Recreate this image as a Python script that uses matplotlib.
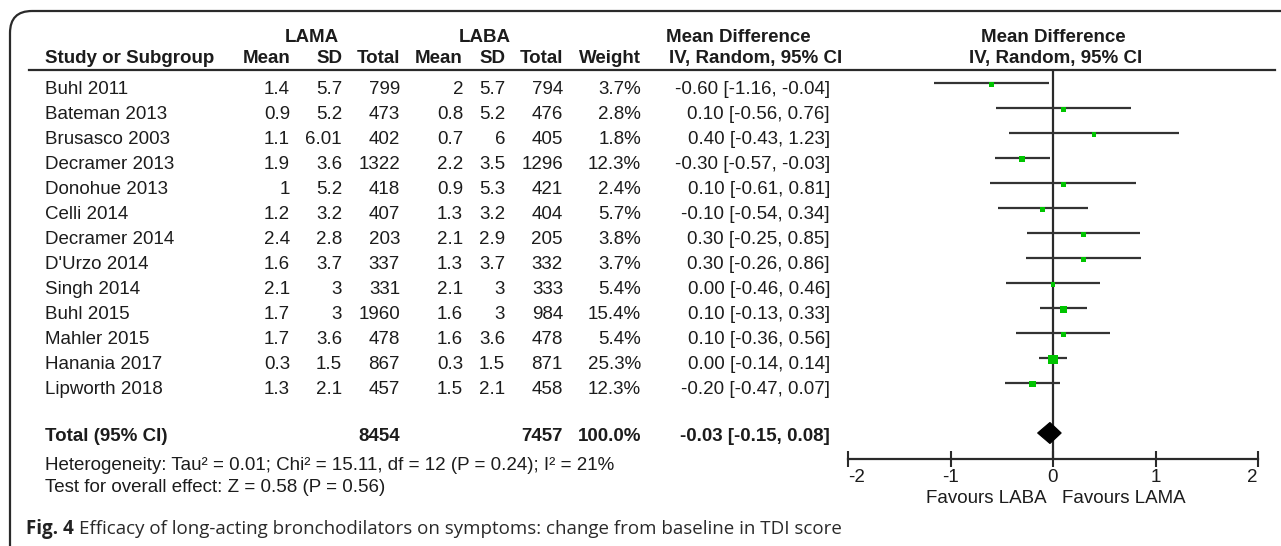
import matplotlib
matplotlib.use("Agg")
import matplotlib.pyplot as plt
from matplotlib.patches import FancyBboxPatch, Polygon
import numpy as np

# ---- data -------------------------------------------------------------
studies = ["Buhl 2011", "Bateman 2013", "Brusasco 2003", "Decramer 2013",
           "Donohue 2013", "Celli 2014", "Decramer 2014", "D'Urzo 2014",
           "Singh 2014", "Buhl 2015", "Mahler 2015", "Hanania 2017",
           "Lipworth 2018"]
lama_mean = ["1.4", "0.9", "1.1", "1.9", "1", "1.2", "2.4", "1.6", "2.1", "1.7", "1.7", "0.3", "1.3"]
lama_sd = ["5.7", "5.2", "6.01", "3.6", "5.2", "3.2", "2.8", "3.7", "3", "3", "3.6", "1.5", "2.1"]
lama_n = [799, 473, 402, 1322, 418, 407, 203, 337, 331, 1960, 478, 867, 457]
laba_mean = ["2", "0.8", "0.7", "2.2", "0.9", "1.3", "2.1", "1.3", "2.1", "1.6", "1.6", "0.3", "1.5"]
laba_sd = ["5.7", "5.2", "6", "3.5", "5.3", "3.2", "2.9", "3.7", "3", "3", "3.6", "1.5", "2.1"]
laba_n = [794, 476, 405, 1296, 421, 404, 205, 332, 333, 984, 478, 871, 458]
weight = [3.7, 2.8, 1.8, 12.3, 2.4, 5.7, 3.8, 3.7, 5.4, 15.4, 5.4, 25.3, 12.3]
md = [-0.60, 0.10, 0.40, -0.30, 0.10, -0.10, 0.30, 0.30, 0.00, 0.10, 0.10, 0.00, -0.20]
ci_lo = [-1.16, -0.56, -0.43, -0.57, -0.61, -0.54, -0.25, -0.26, -0.46, -0.13, -0.36, -0.14, -0.47]
ci_hi = [-0.04, 0.76, 1.23, -0.03, 0.81, 0.34, 0.85, 0.86, 0.46, 0.33, 0.56, 0.14, 0.07]

total_lama, total_laba = 8454, 7457
total_md, total_lo, total_hi = -0.03, -0.15, 0.08
heterogeneity = "Heterogeneity: Tau² = 0.01; Chi² = 15.11, df = 12 (P = 0.24); I² = 21%"
overall = "Test for overall effect: Z = 0.58 (P = 0.56)"
x_ticks = [-2, -1, 0, 1, 2]
favours_left, favours_right = "Favours LABA", "Favours LAMA"
caption_bold = "Fig. 4"
caption = "Efficacy of long-acting bronchodilators on symptoms: change from baseline in TDI score"

# ---- figure -----------------------------------------------------------
W, H = 1281, 546
fig = plt.figure(figsize=(W / 100, H / 100), dpi=100)
fig.patch.set_facecolor("white")

ink = "#1c1c1c"
line_c = "#2a2a2a"
green = "#00c400"
fs = 13.5
sans = ["Liberation Sans", "DejaVu Sans"]
cap_font = ["Open Sans", "DejaVu Sans"]

# canvas axes in pixel units for the table part
tab = fig.add_axes([0, 0, 1, 1])
tab.set_xlim(0, W)
tab.set_ylim(H, 0)
tab.axis("off")

# rounded frame around the figure panel
frame = FancyBboxPatch((10, 11), 1400, 700, boxstyle="round,pad=0,rounding_size=22",
                       fill=False, ec=line_c, lw=1.6, transform=tab.transData,
                       clip_on=True)
tab.add_patch(frame)


def put(x, y, s, ha="left", bold=False, size=fs, family=None, color=ink):
    return tab.text(x, y, s, ha=ha, va="baseline", fontsize=size,
                    fontweight="bold" if bold else "normal",
                    family=family or sans, color=color)


# header
put(312, 42, "LAMA", ha="center", bold=True)
put(485, 42, "LABA", ha="center", bold=True)
put(738, 42, "Mean Difference", ha="center", bold=True)
put(1053, 42, "Mean Difference", ha="center", bold=True)
put(45, 63, "Study or Subgroup", bold=True)
col_right = [290, 342, 400, 463, 505, 563, 641]
for x, s in zip(col_right, ["Mean", "SD", "Total", "Mean", "SD", "Total", "Weight"]):
    put(x, 63, s, ha="right", bold=True)
put(842, 63, "IV, Random, 95% CI", ha="right", bold=True)
put(1056, 63, "IV, Random, 95% CI", ha="center", bold=True)
tab.plot([29, 1275], [69.5, 69.5], color=line_c, lw=1.6)

# study rows
for i, name in enumerate(studies):
    y = 94 + 25 * i
    put(45, y, name)
    vals = [lama_mean[i], lama_sd[i], str(lama_n[i]), laba_mean[i], laba_sd[i],
            str(laba_n[i]), f"{weight[i]:.1f}%"]
    for x, s in zip(col_right, vals):
        put(x, y, s, ha="right")
    put(830, y, f"{md[i]:.2f} [{ci_lo[i]:.2f}, {ci_hi[i]:.2f}]", ha="right")

# total row
put(45, 441, "Total (95% CI)", bold=True)
put(400, 441, str(total_lama), ha="right", bold=True)
put(563, 441, str(total_laba), ha="right", bold=True)
put(641, 441, f"{sum(weight):.1f}%", ha="right", bold=True)
put(830, 441, f"{total_md:.2f} [{total_lo:.2f}, {total_hi:.2f}]", ha="right", bold=True)

put(45, 470, heterogeneity)
put(45, 492, overall)

# caption
cap = put(26, 534, caption_bold + " ", bold=True, size=13.5, family=cap_font, color="#222222")
fig.canvas.draw()
bb = cap.get_window_extent()
x_after = tab.transData.inverted().transform((bb.x1, bb.y0))[0]
put(x_after, 534, caption, size=13.5, family=cap_font, color="#2a2a2a")

# ---- forest plot ------------------------------------------------------
x_m2, x_p2 = 848, 1258
y_top, y_axis = 69.5, 459
row_top = (y_top - 83) / 25
row_bot = (y_axis - 83) / 25
fax = fig.add_axes([x_m2 / W, 1 - y_axis / H, (x_p2 - x_m2) / W, (y_axis - y_top) / H])
fax.set_xlim(-2, 2)
fax.set_ylim(row_bot, row_top)
fax.patch.set_alpha(0)
for side in ["top", "right", "left"]:
    fax.spines[side].set_visible(False)
fax.spines["bottom"].set_color(line_c)
fax.spines["bottom"].set_linewidth(1.6)
fax.set_yticks([])
fax.set_xticks(x_ticks)
fax.set_xticklabels([str(t) for t in x_ticks], fontsize=fs, family=sans, color=ink)
fax.tick_params(axis="x", direction="inout", length=11, width=1.5, color=line_c, pad=2)
# end labels sit inside the axis span
tl = fax.get_xticklabels()
tl[0].set_ha("left")
tl[-1].set_ha("right")

fax.axvline(0, color=line_c, lw=1.6, zorder=1)
rows = np.arange(len(studies))
fax.hlines(rows, ci_lo, ci_hi, color="#333333", lw=1.6, zorder=2)
sizes = np.maximum(1.85 * np.sqrt(weight) * 0.72, 3.3)
fax.scatter(md, rows + 0.05, marker="s", s=sizes ** 2, color=green, lw=0, zorder=3)

# pooled estimate diamond
total_row = 14
dh = 0.42
fax.add_patch(Polygon([[total_lo, total_row], [total_md, total_row - dh],
                       [total_hi, total_row], [total_md, total_row + dh]],
                      closed=True, fc="black", ec="black", lw=0.8, zorder=4))

# direction labels under the axis
put(1047, 503, favours_left, ha="right")
put(1062, 503, favours_right, ha="left")

fig.savefig("out.png", dpi=100, facecolor="white")
